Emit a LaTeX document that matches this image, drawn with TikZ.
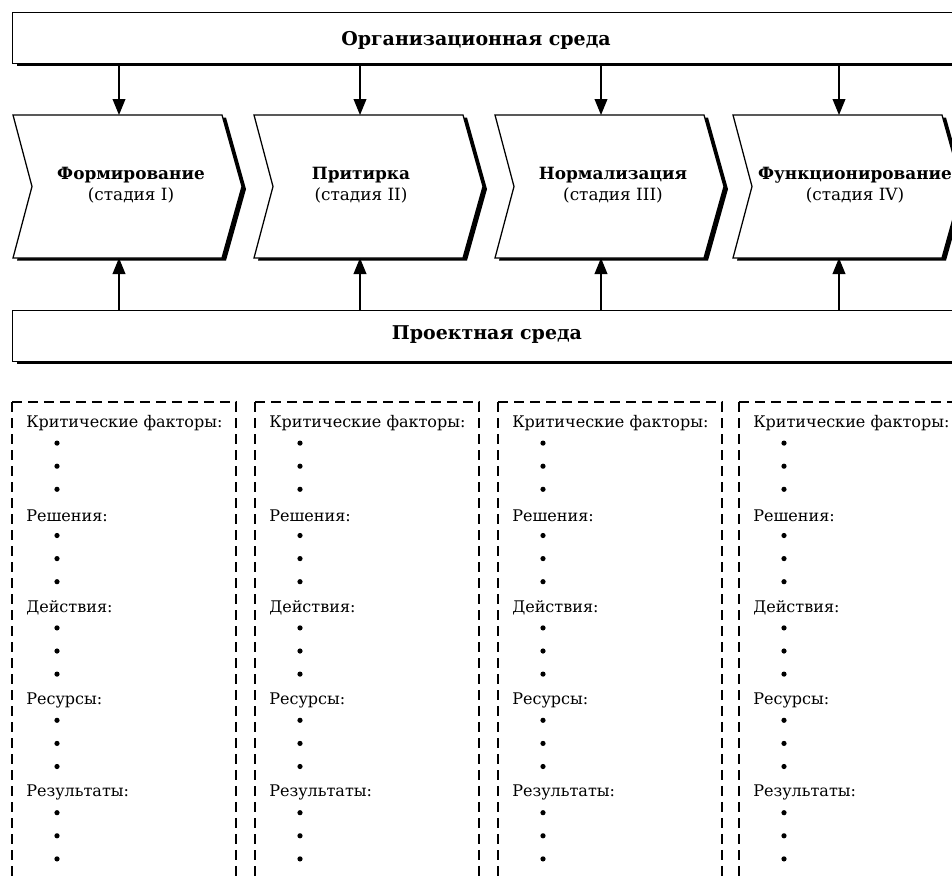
\documentclass[tikz,border=0pt]{standalone}
\usepackage{fontspec}
\setmainfont{DejaVu Serif}
\usetikzlibrary{arrows.meta,shadows}
\tikzset{
  blackshadow/.style={drop shadow={shadow xshift=0.1cm,shadow yshift=-0.065cm,opacity=1,fill=black}},
  bar/.style={draw,fill=white,line width=0.9pt,blackshadow,minimum width=25cm,minimum height=1.275cm,inner sep=0pt,anchor=north west},
  bartext/.style={font=\fontsize{13.5}{16}\selectfont\bfseries},
  stagebox/.style={draw,fill=white,line width=0.9pt,blackshadow},
  stagetext/.style={align=center,font=\fontsize{12}{15}\selectfont},
  arr/.style={line width=0.9pt,-{Triangle[length=0.4cm,width=0.32cm]}},
  dashbox/.style={line width=0.9pt,dash pattern=on 0.26cm off 0.14cm},
  itemtext/.style={anchor=west,inner sep=0pt,font=\fontsize{11.4}{13}\selectfont}
}

\begin{document}
\begin{tikzpicture}
  \useasboundingbox (0,0) rectangle (23.8,-21.9);
  \node[bar] (org) at (0.3,-0.3) {};
  \node[bartext] (orgtext) at (11.9,-1.0) {Организационная среда};
  \node[bar] (proj) at (0.3,-7.75) {};
  \node[bartext] (projtext) at (12.175,-8.375) {Проектная среда};
  \foreach \x/\i in {0.325/1,6.35/2,12.375/3,18.325/4}{
    \filldraw[stagebox] (\x,-2.875) -- ++(5.225,0) -- ++(0.5,-1.7875) -- ++(-0.5,-1.7875) -- ++(-5.225,0) -- ++(0.475,1.7875) -- cycle;
    \coordinate (top\i) at (\x+2.65,-2.875);
    \coordinate (bot\i) at (\x+2.65,-6.45);
    \draw[arr] (org.south -| top\i) -- (top\i);
    \draw[arr] (proj.north -| bot\i) -- (bot\i);
  }
  \node[stagetext] (st1) at (3.275,-4.64) {\textbf{Формирование}\\(стадия I)};
  \node[stagetext] (st2) at (9.025,-4.64) {\textbf{Притирка}\\(стадия II)};
  \node[stagetext] (st3) at (15.325,-4.64) {\textbf{Нормализация}\\(стадия III)};
  \node[stagetext] (st4) at (21.375,-4.64) {\textbf{Функционирование}\\(стадия IV)};
  \foreach \x/\j in {0.3/1,6.375/2,12.45/3,18.475/4}{
    \draw[dashbox] (\x,-10.05) -- (\x,-22.5);
    \draw[dashbox] (\x,-10.05) -- (\x+5.6,-10.05) -- (\x+5.6,-22.5);
    \foreach \lab [count=\k from 0] in {Критические факторы:,Решения:,Действия:,Ресурсы:,Результаты:}{
      \node[itemtext] (lab\j\k) at (\x+0.35,-10.575-2.31*\k) {\lab};
      \foreach \b in {1,2,3}
        \fill (\x+1.125,-10.5-2.31*\k-0.5775*\b) circle (0.065);
    }
  }
\end{tikzpicture}
\end{document}
